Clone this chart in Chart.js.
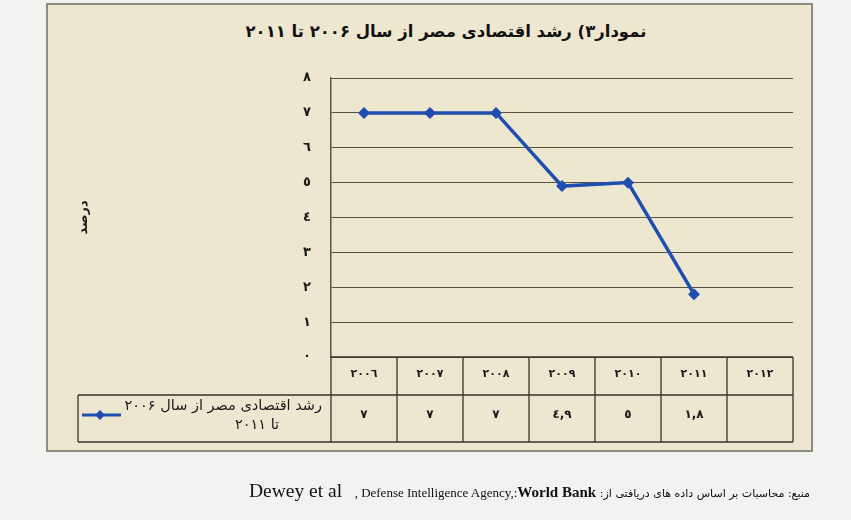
<!DOCTYPE html>
<html>
<head>
<meta charset="utf-8">
<script src="https://cdn.jsdelivr.net/npm/chart.js@4/dist/chart.umd.min.js"></script>
<style>
  html, body { margin: 0; padding: 0; }
  body { width: 851px; height: 520px; background: #f2f2f0; position: relative; overflow: hidden; font-family: "DejaVu Sans", sans-serif; }
  .frame { position: absolute; left: 46px; top: 3px; width: 763px; height: 445px; background: #eee7d0; border: 2px solid #8c8c84; }
  .title { position: absolute; left: 226px; width: 440px; top: 22px; text-align: center; direction: rtl; font-weight: bold; font-size: 16.5px; color: #111; }
  canvas { position: absolute; left: 0; top: 0; }
  .source { position: absolute; right: 41px; top: 480px; direction: ltr; white-space: nowrap; font-family: "Liberation Serif", serif; color: #111; font-size: 15px; }
  .source .fa { font-family: "DejaVu Sans", sans-serif; font-size: 11px; direction: rtl; unicode-bidi: isolate; }
</style>
</head>
<body>
<div class="frame"></div>
<div class="title">نمودار۳) رشد اقتصادی مصر از سال ۲۰۰۶ تا ۲۰۱۱</div>
<div style="position:absolute; left:0; top:0; width:851px; height:520px;">
  <canvas id="chart" width="851" height="520"></canvas>
</div>
<div class="source"><span style="font-size:19.5px; margin-right:5px">Dewey et al</span> &nbsp;<span style="font-size:13px">, Defense Intelligence Agency,:</span><b>World Bank</b> <span class="fa">منبع: محاسبات بر اساس داده های دریافتی از:</span></div>

<script>
// data
const years = ['2006', '2007', '2008', '2009', '2010', '2011', '2012'];
const growth = [7, 7, 7, 4.9, 5, 1.8, null];
const yTicks = ['٠', '١', '٢', '٣', '٤', '٥', '٦', '٧', '٨'];
const seriesName = ['رشد اقتصادی مصر از سال ۲۰۰۶', 'تا ۲۰۱۱'];
const yTitle = 'درصد';

const arabicDigits = '٠١٢٣٤٥٦٧٨٩';
function toArabic(str) {
  return String(str).replace(/[0-9]/g, d => arabicDigits[+d]).replace('.', ',');
}

const lineColor = '#1f4fae';
const gridColor = '#5a5242';
const inkColor = '#1a1a1a';

// draws the data table under the plot, using the x scale columns
const dataTable = {
  id: 'dataTable',
  afterDraw(chart) {
    const ctx = chart.ctx;
    const x = chart.scales.x;
    const area = chart.chartArea;
    const colW = x.getPixelForValue(1) - x.getPixelForValue(0);
    const top = area.bottom;
    const mid = top + 38;
    const bottom = top + 85;
    const tableLeft = 78;
    const colLeft = x.getPixelForValue(0) - colW / 2;
    const colRight = x.getPixelForValue(years.length - 1) + colW / 2;

    ctx.save();
    ctx.strokeStyle = '#3b3529';
    ctx.lineWidth = 1.3;
    ctx.beginPath();
    ctx.moveTo(colLeft, top); ctx.lineTo(colRight, top);
    ctx.moveTo(tableLeft, mid); ctx.lineTo(colRight, mid);
    ctx.moveTo(tableLeft, bottom); ctx.lineTo(colRight, bottom);
    ctx.moveTo(tableLeft, mid); ctx.lineTo(tableLeft, bottom);
    for (let i = 0; i <= years.length; i++) {
      const px = colLeft + i * colW;
      ctx.moveTo(px, top); ctx.lineTo(px, bottom);
    }
    ctx.stroke();

    ctx.fillStyle = inkColor;
    ctx.textAlign = 'center';
    ctx.textBaseline = 'middle';
    years.forEach((yr, i) => {
      const cx = x.getPixelForValue(i);
      ctx.font = 'bold 11px "DejaVu Sans"';
      ctx.fillText(toArabic(yr), cx, top + 17);
      if (growth[i] !== null) {
        ctx.font = 'bold 12px "DejaVu Sans"';
        ctx.fillText(toArabic(growth[i]), cx, mid + 20);
      }
    });

    // legend key inside the table
    const ly = mid + 20;
    ctx.strokeStyle = lineColor;
    ctx.lineWidth = 3;
    ctx.beginPath();
    ctx.moveTo(82, ly); ctx.lineTo(121, ly);
    ctx.stroke();
    ctx.fillStyle = lineColor;
    ctx.beginPath();
    ctx.moveTo(100, ly - 5); ctx.lineTo(105, ly); ctx.lineTo(100, ly + 5); ctx.lineTo(95, ly);
    ctx.closePath();
    ctx.fill();

    ctx.fillStyle = inkColor;
    ctx.font = '14.5px "DejaVu Sans"';
    ctx.direction = 'rtl';
    ctx.textAlign = 'right';
    ctx.fillText(seriesName[0], colLeft - 9, mid + 11);
    ctx.textAlign = 'center';
    ctx.fillText(seriesName[1], 257, mid + 30);
    ctx.restore();
  }
};

new Chart(document.getElementById('chart'), {
  type: 'line',
  data: {
    labels: years,
    datasets: [{
      label: seriesName.join(' '),
      data: growth,
      borderColor: lineColor,
      backgroundColor: lineColor,
      borderWidth: 3.5,
      pointStyle: 'rectRot',
      pointRadius: 6,
      pointBorderWidth: 0,
      tension: 0,
      spanGaps: false
    }]
  },
  options: {
    responsive: false,
    animation: false,
    layout: { padding: { left: 72, right: 58, top: 78, bottom: 163 } },
    plugins: {
      legend: { display: false },
      tooltip: { enabled: false },
      title: { display: false }
    },
    scales: {
      x: { display: false, offset: true },
      y: {
        min: 0, max: 8,
        afterFit: s => { s.width = 259; },
        ticks: {
          stepSize: 1,
          padding: 20,
          color: inkColor,
          font: { family: 'DejaVu Sans', size: 13, weight: 'bold' },
          callback: v => yTicks[v]
        },
        grid: { color: gridColor, lineWidth: 1, drawTicks: false },
        border: { color: gridColor, width: 1.5 },
        title: {
          display: true,
          text: yTitle,
          color: inkColor,
          font: { family: 'DejaVu Sans', size: 13, weight: 'bold' },
          padding: 4
        }
      }
    }
  },
  plugins: [dataTable]
});
</script>
</body>
</html>
